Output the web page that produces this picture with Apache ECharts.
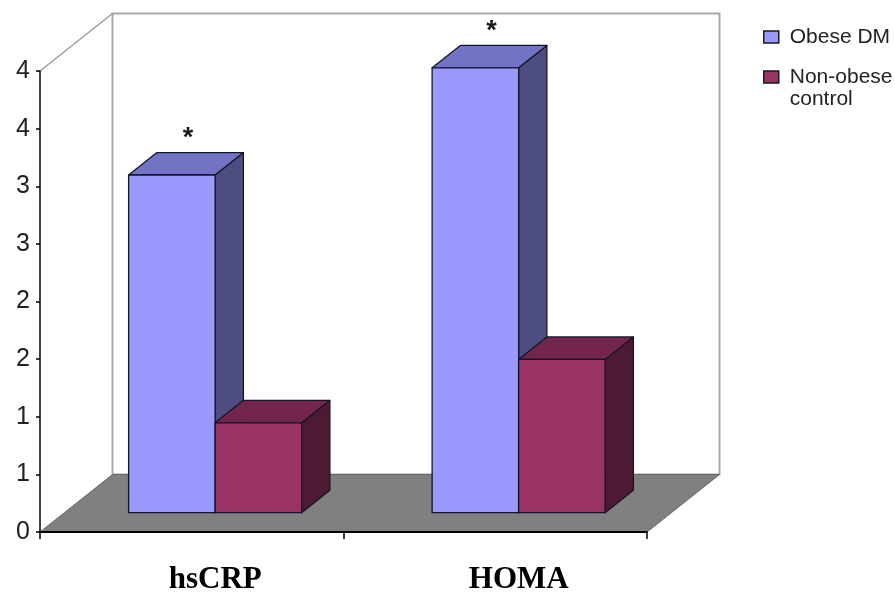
<!DOCTYPE html>
<html>
<head>
<meta charset="utf-8">
<script src="https://cdn.jsdelivr.net/npm/echarts@6/dist/echarts.min.js"></script>
<style>
  html, body { margin: 0; padding: 0; background: #ffffff; }
  #chart { width: 895px; height: 595px; }
</style>
</head>
<body>
<div id="chart"></div>
<script>
// ---- data ----
const categories = ['hsCRP', 'HOMA'];
const obeseDM = [2.93, 3.86];
const nonObeseControl = [0.78, 1.33];
const obeseMarks = ['*', '*'];
const yTickLabels = ['0', '1', '1', '2', '2', '3', '3', '4', '4'];
const seriesNames = ['Obese DM', 'Non-obese control'];

// ---- 3D look: depth vector of the box and bar placement inside it ----
const DEPTH = [72.5, -57.5];
const BAR_FRONT = 0.336;  // depth fraction where bar front faces sit
const BAR_DEPTH = 0.39;   // depth fraction taken up by each bar
const BAR_FRAC = 0.285;   // bar width as a fraction of the category width

const palettes = [
  { front: '#9999FF', top: '#7373C6', side: '#4D4D80' },
  { front: '#993366', top: '#73264D', side: '#4D1A33' }
];
const EDGE = '#15152A';
const SANS = '"Liberation Sans", Arial, sans-serif';

function barRenderer(k, marks) {
  return function (params, api) {
    const i = api.value(0);
    const v = api.value(1);
    const base = api.coord([i, 0]);
    const top = api.coord([i, v]);
    const catW = api.size([1, 0])[0];
    const bw = catW * BAR_FRAC;
    const fx = DEPTH[0] * BAR_FRONT, fy = DEPTH[1] * BAR_FRONT;
    const dx = DEPTH[0] * BAR_DEPTH, dy = DEPTH[1] * BAR_DEPTH;
    const x0 = base[0] - bw + k * bw + fx - 1;
    const x1 = x0 + bw;
    const yb = base[1] + fy;
    const yt = top[1] + fy;
    const pal = palettes[k];
    const st = (fill) => ({ fill: fill, stroke: EDGE, lineWidth: 1.3, lineJoin: 'round' });
    const children = [
      { type: 'polygon', shape: { points: [[x1, yb], [x1 + dx, yb + dy], [x1 + dx, yt + dy], [x1, yt]] }, style: st(pal.side) },
      { type: 'polygon', shape: { points: [[x0, yt], [x1, yt], [x1 + dx, yt + dy], [x0 + dx, yt + dy]] }, style: st(pal.top) },
      { type: 'rect', shape: { x: x0, y: yt, width: bw, height: yb - yt }, style: st(pal.front) }
    ];
    if (marks && marks[i]) {
      children.push({
        type: 'text',
        style: {
          text: marks[i],
          x: (x0 + x1) / 2 + dx / 2 + 2,
          y: yt + dy - 14,
          align: 'center',
          verticalAlign: 'middle',
          font: 'bold 27px ' + SANS,
          fill: '#1a1a1a'
        }
      });
    }
    return { type: 'group', children: children };
  };
}

// walls and floor of the box, taken from the grid rectangle
function frameRenderer(params, api) {
  const cs = params.coordSys;
  const L = cs.x, R = cs.x + cs.width, T = cs.y, B = cs.y + cs.height;
  const dx = DEPTH[0], dy = DEPTH[1];
  return {
    type: 'group',
    children: [
      { type: 'polygon', shape: { points: [[L, B], [L, T], [L + dx, T + dy], [L + dx, B + dy]] }, style: { fill: '#ffffff' } },
      { type: 'rect', shape: { x: L + dx, y: T + dy, width: R - L, height: B - T }, style: { fill: '#ffffff', stroke: '#A8A8A8', lineWidth: 2 } },
      { type: 'line', shape: { x1: L, y1: T, x2: L + dx, y2: T + dy }, style: { stroke: '#9C9C9C', lineWidth: 1.5 } },
      { type: 'polygon', shape: { points: [[L, B], [R, B], [R + dx, B + dy], [L + dx, B + dy]] }, style: { fill: '#808080', stroke: '#666666', lineWidth: 1 } }
    ]
  };
}

const legendText = { fontFamily: SANS, fontSize: 21, color: '#222222', lineHeight: 22, padding: [0, 0, 0, 6] };
const legendBase = {
  orient: 'vertical',
  left: 763,
  padding: 0,
  icon: 'rect',
  itemWidth: 15,
  itemHeight: 12,
  textStyle: legendText
};

const chart = echarts.init(document.getElementById('chart'), null, { renderer: 'canvas' });

chart.setOption({
  backgroundColor: '#ffffff',
  animation: false,
  grid: { left: 40, top: 71, width: 607, height: 461, containLabel: false },
  legend: [
    Object.assign({}, legendBase, {
      top: 26,
      data: [{ name: seriesNames[0], itemStyle: { color: palettes[0].front, borderColor: '#1a1a1a', borderWidth: 1.5 } }]
    }),
    Object.assign({}, legendBase, {
      top: 44,
      // blank first line keeps the swatch level with "Non-obese"
      formatter: () => ' \nNon-obese\ncontrol',
      data: [{ name: seriesNames[1], itemStyle: { color: palettes[1].front, borderColor: '#1a1a1a', borderWidth: 1.5 } }]
    })
  ],
  xAxis: {
    type: 'category',
    data: categories,
    boundaryGap: true,
    axisLine: { show: true, lineStyle: { color: '#000000', width: 2 } },
    axisTick: { show: true, length: 7, lineStyle: { color: '#000000', width: 1.5 } },
    axisLabel: {
      fontFamily: '"Liberation Serif", "Times New Roman", serif',
      fontWeight: 'bold',
      fontSize: 31,
      color: '#000000',
      margin: 32,
      padding: [0, 0, 0, 47]
    },
    splitLine: { show: false },
    z: 5
  },
  yAxis: {
    type: 'value',
    min: 0,
    max: 4,
    interval: 0.5,
    axisLine: { show: true, lineStyle: { color: '#000000', width: 1.5 } },
    axisTick: { show: true, length: 4, lineStyle: { color: '#000000', width: 1.5 } },
    axisLabel: {
      fontFamily: SANS,
      fontSize: 25,
      color: '#222222',
      margin: 10,
      formatter: (val) => yTickLabels[Math.round(val / 0.5)]
    },
    splitLine: { show: false },
    z: 5
  },
  series: [
    {
      name: 'frame',
      type: 'custom',
      silent: true,
      z: 1,
      renderItem: frameRenderer,
      data: [[0, 0]]
    },
    {
      name: seriesNames[0],
      type: 'custom',
      z: 2,
      itemStyle: { color: palettes[0].front },
      renderItem: barRenderer(0, obeseMarks),
      encode: { x: 0, y: 1 },
      data: categories.map((c, i) => [i, obeseDM[i]])
    },
    {
      name: seriesNames[1],
      type: 'custom',
      z: 3,
      itemStyle: { color: palettes[1].front },
      renderItem: barRenderer(1, null),
      encode: { x: 0, y: 1 },
      data: categories.map((c, i) => [i, nonObeseControl[i]])
    }
  ]
});
</script>
</body>
</html>
